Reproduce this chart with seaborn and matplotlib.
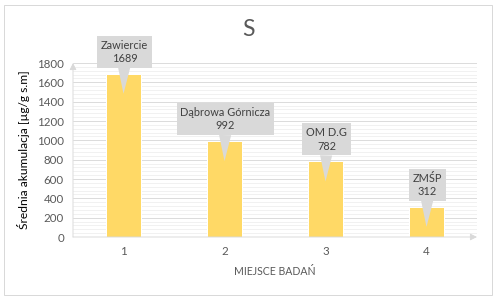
import matplotlib
matplotlib.use("Agg")
import matplotlib.pyplot as plt
import matplotlib.transforms as mtransforms
from matplotlib.patches import Rectangle
from matplotlib.ticker import MultipleLocator
import seaborn as sns
import pandas as pd

# ---- data ----
categories = ["1", "2", "3", "4"]
values = [1689, 992, 782, 312]
site_names = ["Zawiercie", "Dąbrowa Górnicza", "OM D.G", "ZMŚP"]
title = "S"
xlabel = "MIEJSCE BADAŃ"
ylabel = "Średnia akumulacja [µg/g s.m]"

sns.set_theme(style="white")
plt.rcParams["font.family"] = ["Lato", "DejaVu Sans"]

W, H = 496, 300
fig = plt.figure(figsize=(W / 72, H / 72), dpi=72)
ax = fig.add_axes([73 / W, (H - 237) / H, (477 - 73) / W, (237 - 63) / H])

df = pd.DataFrame({"cat": categories, "val": values})
sns.barplot(data=df, x="cat", y="val", color="#FFD966", width=0.34,
            saturation=1, ax=ax, zorder=3)

ax.set_ylim(0, 1800)
ax.set_xlim(-0.5, 3.5)
ax.yaxis.set_major_locator(MultipleLocator(200))
ax.yaxis.set_minor_locator(MultipleLocator(40))
ax.grid(axis="y", which="major", color="#D9D9D9", lw=0.9, zorder=1)
ax.grid(axis="y", which="minor", color="#EDEDED", lw=0.75, zorder=0)
ax.grid(axis="x", visible=False)
ax.set_axisbelow(True)
for s in ax.spines.values():
    s.set_visible(False)

ax.tick_params(axis="y", which="both", length=0, pad=9, labelsize=11.5, labelcolor="#595959")
ax.tick_params(axis="x", length=0, pad=9, labelsize=11.5, labelcolor="#595959")

ax.set_xlabel(xlabel, fontsize=10.5, color="#595959", labelpad=9)
ax.set_ylabel(ylabel, fontsize=12, color="#000000", labelpad=7)

fig.text(248 / W, 1 - 30 / H, title, ha="center", va="center",
         fontsize=23, color="#595959")

# axis arrows
arrow_kw = dict(arrowstyle="-|>", color="#D9D9D9", lw=0.9, mutation_scale=14,
                shrinkA=0, shrinkB=0)
ax.annotate("", xy=(0, 1.0), xytext=(0, 0), xycoords="axes fraction",
            textcoords="axes fraction", arrowprops=arrow_kw, zorder=4,
            annotation_clip=False)
ax.annotate("", xy=(1.0, 0), xytext=(0, 0), xycoords="axes fraction",
            textcoords="axes fraction", arrowprops=arrow_kw, zorder=4,
            annotation_clip=False)

# callouts
tip_tr = mtransforms.offset_copy(ax.transData, fig=fig, y=-20, units="dots")
for i, (name, v) in enumerate(zip(site_names, values)):
    ax.annotate(f"{name}\n{v}", xy=(i, v), xycoords=tip_tr,
                xytext=(1, 42), textcoords="offset pixels",
                ha="center", va="center", fontsize=11, color="#404040",
                linespacing=1.25, zorder=6,
                bbox=dict(boxstyle="square,pad=0.35", fc="#D9D9D9", ec="none"),
                arrowprops=dict(arrowstyle="wedge,tail_width=1.1,shrink_factor=0.5",
                                fc="#D9D9D9", ec="none", shrinkA=0, shrinkB=0))

fig.add_artist(Rectangle((4 / W, 5 / H), 488 / W, 290 / H, transform=fig.transFigure,
                         fill=False, ec="#D9D9D9", lw=1))

fig.savefig("out.png", dpi=72)
